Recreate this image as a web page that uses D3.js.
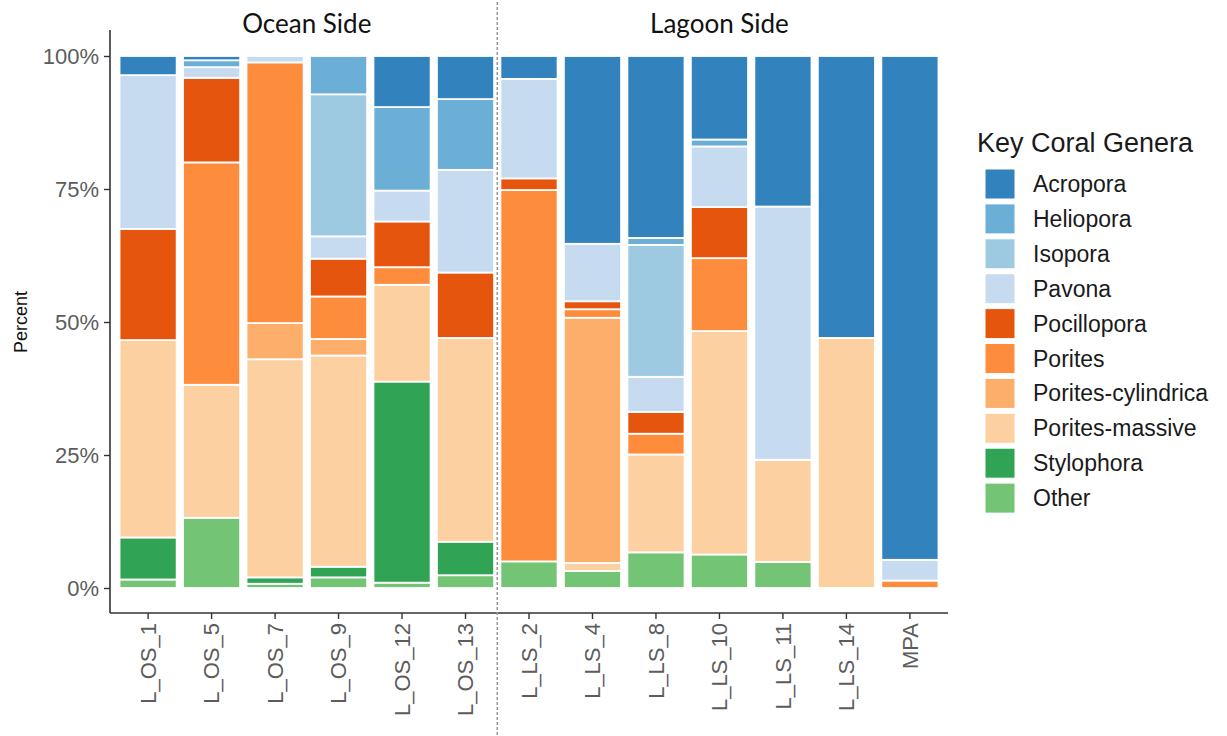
<!DOCTYPE html>
<html>
<head>
<meta charset="utf-8">
<script src="https://cdn.jsdelivr.net/npm/d3@7"></script>
<style>
  body { margin: 0; background: #fff; }
  svg { display: block; }
</style>
</head>
<body>
<div id="chart"></div>
<script>
// sites on the x axis
var sites = ["L_OS_1", "L_OS_5", "L_OS_7", "L_OS_9", "L_OS_12", "L_OS_13",
             "L_LS_2", "L_LS_4", "L_LS_8", "L_LS_10", "L_LS_11", "L_LS_14", "MPA"];

var genera = ["Acropora", "Heliopora", "Isopora", "Pavona", "Pocillopora", "Porites",
              "Porites-cylindrica", "Porites-massive", "Stylophora", "Other"];

var genera_colors = ["#3182bd", "#6baed6", "#9ecae1", "#c6dbef", "#e6550d", "#fd8d3c",
                     "#fdae6b", "#fdd0a2", "#31a354", "#74c476"];

// percent of cover per site (same order as sites)
var acropora    = [3.6, 0.8, 0, 0, 9.6, 8.1, 4.3, 35.3, 34.2, 15.7, 28.3, 53, 94.7];
var heliopora   = [0, 1.3, 0, 7.2, 15.7, 13.3, 0, 0, 1.3, 1.3, 0, 0, 0];
var isopora     = [0, 0, 0, 26.7, 0, 0, 0, 0, 24.8, 0, 0, 0, 0];
var pavona      = [28.9, 2.0, 1.2, 4.2, 5.8, 19.3, 18.7, 10.8, 6.6, 11.4, 47.6, 0, 3.9];
var pocillopora = [20.9, 15.9, 0, 7.1, 8.6, 12.3, 2.2, 1.5, 4.1, 9.6, 0, 0, 0];
var porites     = [0, 41.8, 49.0, 8.0, 3.3, 0, 69.8, 1.6, 3.9, 13.7, 0, 0, 1.4];
var porites_cyl = [0, 0, 6.8, 3.1, 0, 0, 0, 46.1, 0, 0, 0, 0, 0];
var porites_mas = [37.1, 25.0, 41.0, 39.7, 18.2, 38.3, 0, 1.5, 18.4, 42.0, 19.2, 47, 0];
var stylophora  = [7.9, 0, 1.2, 2.0, 37.8, 6.3, 0, 0, 0, 0, 0, 0, 0];
var other       = [1.6, 13.2, 0.8, 2.0, 1.0, 2.4, 5.0, 3.2, 6.7, 6.3, 4.9, 0, 0];

var y_ticks = [0, 25, 50, 75, 100];

var side_titles = [
    { name: "Ocean Side", from: "L_OS_1", to: "L_OS_13" },
    { name: "Lagoon Side", from: "L_LS_2", to: "MPA" }
];

var series_values = [acropora, heliopora, isopora, pavona, pocillopora, porites,
                     porites_cyl, porites_mas, stylophora, other];

// build rows for d3.stack
var rows = sites.map(function (s, i) {
    var r = { site: s };
    genera.forEach(function (g, j) { r[g] = series_values[j][i]; });
    return r;
});

var width = 1227, height = 736;
var panel = { left: 110, right: 948, top: 30, bottom: 613 };
var font_axis = "'Liberation Sans', Arial, sans-serif";

var svg = d3.select("#chart").append("svg")
    .attr("width", width)
    .attr("height", height);

var x = d3.scaleBand()
    .domain(sites)
    .range([panel.left, panel.right])
    .paddingInner(0.1)
    .paddingOuter(0.15);

var y = d3.scaleLinear()
    .domain([0, 100])
    .range([588, 56]);

var color = d3.scaleOrdinal()
    .domain(genera)
    .range(genera_colors);

// first legend item sits on top of the stack
var stack = d3.stack().keys(genera.slice().reverse());
var layers = stack(rows);

svg.append("g")
    .selectAll("g")
    .data(layers)
    .enter().append("g")
    .attr("fill", function (d) { return color(d.key); })
    .selectAll("rect")
    .data(function (d) { return d.filter(function (p) { return p[1] - p[0] > 0; }); })
    .enter().append("rect")
    .attr("x", function (d) { return x(d.data.site); })
    .attr("width", x.bandwidth())
    .attr("y", function (d) { return y(d[1]); })
    .attr("height", function (d) { return y(d[0]) - y(d[1]); })
    .attr("stroke", "#fff")
    .attr("stroke-width", 1.8);

// y axis
var y_axis = svg.append("g")
    .attr("transform", "translate(" + panel.left + ",0)")
    .call(d3.axisLeft(y).tickValues(y_ticks).tickSize(6).tickPadding(5)
        .tickFormat(function (d) { return d + "%"; }));
y_axis.select(".domain").remove();
y_axis.selectAll("line").attr("stroke", "#333").attr("stroke-width", 1.4);
y_axis.selectAll("text")
    .attr("font-family", font_axis)
    .attr("font-size", "22px")
    .attr("fill", "#5c5c5c");

// x axis
var x_axis = svg.append("g")
    .attr("transform", "translate(0," + panel.bottom + ")")
    .call(d3.axisBottom(x).tickSize(6).tickSizeOuter(0));
x_axis.select(".domain").remove();
x_axis.selectAll("line").attr("stroke", "#333").attr("stroke-width", 1.4);
x_axis.selectAll("text")
    .attr("font-family", font_axis)
    .attr("font-size", "22px")
    .attr("fill", "#5c5c5c")
    .attr("transform", "rotate(-90)")
    .attr("x", -10)
    .attr("y", 0)
    .attr("dy", "0.35em")
    .style("text-anchor", "end");

// axis lines
svg.append("line")
    .attr("x1", panel.left).attr("x2", panel.left)
    .attr("y1", panel.top).attr("y2", panel.bottom)
    .attr("stroke", "#333").attr("stroke-width", 1.6);
svg.append("line")
    .attr("x1", panel.left).attr("x2", panel.right)
    .attr("y1", panel.bottom).attr("y2", panel.bottom)
    .attr("stroke", "#333").attr("stroke-width", 1.6);

// y title
svg.append("text")
    .attr("transform", "translate(27," + y(50) + ") rotate(-90)")
    .attr("font-family", font_axis)
    .attr("font-size", "18px")
    .attr("fill", "#111")
    .style("text-anchor", "middle")
    .text("Percent");

// divider between ocean and lagoon sites
var split_x = (x("L_OS_13") + x.bandwidth() + x("L_LS_2")) / 2;
svg.append("line")
    .attr("x1", split_x).attr("x2", split_x)
    .attr("y1", 2).attr("y2", height)
    .attr("stroke", "#999")
    .attr("stroke-width", 1.5)
    .attr("stroke-dasharray", "3,2");

// side titles
svg.append("g")
    .selectAll("text")
    .data(side_titles)
    .enter().append("text")
    .attr("x", function (d) { return (x(d.from) + x(d.to) + x.bandwidth()) / 2; })
    .attr("y", 33)
    .attr("font-family", "Lato, 'Open Sans', sans-serif")
    .attr("font-size", "26px")
    .attr("fill", "#111")
    .style("text-anchor", "middle")
    .text(function (d) { return d.name; });

// legend
var legend = svg.append("g").attr("transform", "translate(977,0)");
legend.append("text")
    .attr("x", 0)
    .attr("y", 152)
    .attr("font-family", font_axis)
    .attr("font-size", "27px")
    .attr("fill", "#1a1a1a")
    .text("Key Coral Genera");

var legend_item = legend.selectAll("g.item")
    .data(genera)
    .enter().append("g")
    .attr("class", "item")
    .attr("transform", function (d, i) { return "translate(8," + (169 + i * 34.9) + ")"; });

legend_item.append("rect")
    .attr("width", 30)
    .attr("height", 30)
    .attr("fill", function (d) { return color(d); })
    .attr("stroke", "#fff")
    .attr("stroke-width", 1);

legend_item.append("text")
    .attr("x", 48)
    .attr("y", 15)
    .attr("dy", "0.35em")
    .attr("font-family", font_axis)
    .attr("font-size", "23px")
    .attr("fill", "#1a1a1a")
    .text(function (d) { return d; });
</script>
</body>
</html>
